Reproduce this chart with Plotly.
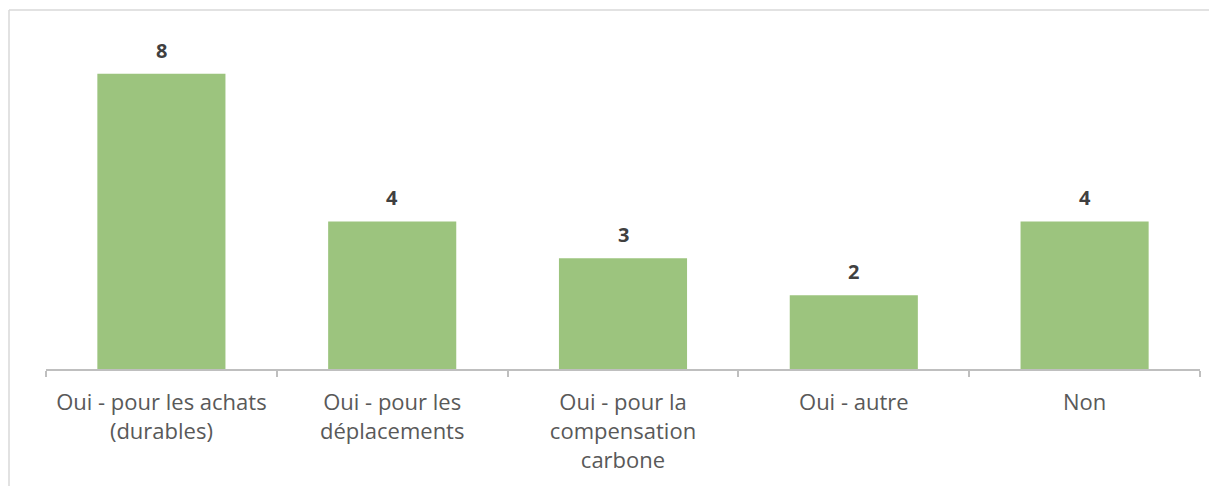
import plotly.graph_objects as go

categories = [
    "Oui - pour les achats<br>(durables)",
    "Oui - pour les<br>déplacements",
    "Oui - pour la<br>compensation<br>carbone",
    "Oui - autre",
    "Non",
]
values = [8, 4, 3, 2, 4]

# page body adds an 8px offset
W, H = 1209, 478
ml, mr, mt, mb = 38, 17, 22, 117
plot_w = W - ml - mr
plot_h = H - mt - mb

FONT = "Open Sans, Liberation Sans, sans-serif"

fig = go.Figure()
fig.add_trace(go.Bar(
    x=categories, y=values,
    marker=dict(color="#9CC47E", line=dict(width=0)),
    hoverinfo="skip",
))

for c, v in zip(categories, values):
    fig.add_annotation(
        x=c, y=v, text="<b>%d</b>" % v, showarrow=False,
        yanchor="bottom", yshift=8,
        font=dict(family=FONT, size=20, color="#404040"),
    )

# outer chart border (left and top edges, as in the cropped reference)
x0 = (1 - ml) / plot_w
y0 = (H - mb - 2) / plot_h
fig.add_shape(type="line", xref="paper", yref="paper", x0=x0, x1=x0, y0=-2, y1=y0,
              line=dict(color="#D9D9D9", width=1.5))
fig.add_shape(type="line", xref="paper", yref="paper", x0=x0, x1=2, y0=y0, y1=y0,
              line=dict(color="#D9D9D9", width=1.5))

fig.update_layout(
    width=W, height=H,
    margin=dict(l=ml, r=mr, t=mt, b=mb),
    plot_bgcolor="white", paper_bgcolor="white",
    bargap=0.445,
    showlegend=False,
    font=dict(family=FONT),
    xaxis=dict(
        type="category",
        showline=True, linecolor="#BFBFBF", linewidth=2,
        ticks="outside", tickson="boundaries", ticklen=6, tickcolor="#BFBFBF", tickwidth=2,
        tickfont=dict(size=22, color="#595959"),
        ticklabelstandoff=13,
        showgrid=False,
    ),
    yaxis=dict(
        range=[0, plot_h / 36.9],
        visible=False, showgrid=False, zeroline=False,
    ),
)

fig.write_html("out.html")
